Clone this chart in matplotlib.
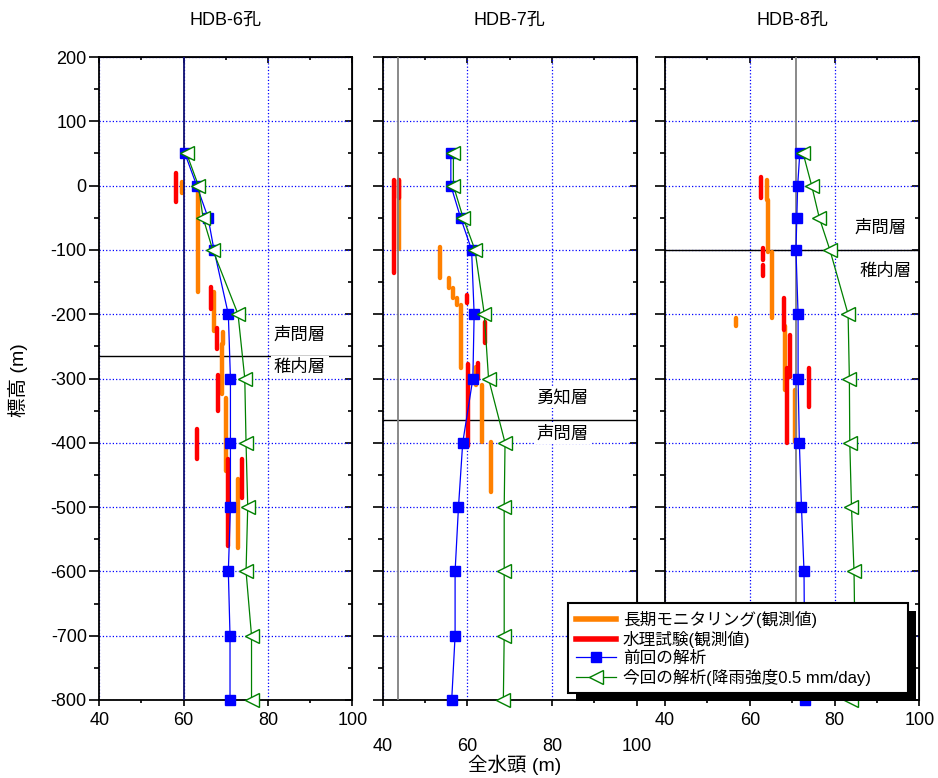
import matplotlib
matplotlib.use('Agg')
import matplotlib.pyplot as plt
import numpy as np
from matplotlib.lines import Line2D
from matplotlib.patches import Rectangle
from matplotlib.ticker import MultipleLocator, NullFormatter

plt.rcParams['font.family'] = ['Liberation Sans', 'Noto Sans CJK JP', 'DejaVu Sans']
plt.rcParams['axes.unicode_minus'] = False

# elevations of the analysis points (m)
elev = [50, 0, -50, -100, -200, -300, -400, -500, -600, -700, -800]

# HDB-6
prev6 = [60.3, 63.1, 65.8, 67.2, 70.6, 71.1, 71.1, 71.1, 70.6, 71.0, 71.0]
now6 = [60.7, 63.5, 64.6, 66.9, 72.9, 74.5, 74.8, 75.2, 74.8, 76.1, 76.1]
mon6_x = [59.5, 63.5, 67.3, 69.4, 69.0, 70.0, 72.9]
mon6_top = [5, -10, -166, -228, -246, -330, -456]
mon6_bot = [-12, -166, -226, -246, -324, -444, -564]
hyd6_x = [58.2, 66.6, 67.8, 68.1, 63.1, 70.6, 73.9]
hyd6_top = [19, -158, -221, -295, -378, -425, -425]
hyd6_bot = [-26, -192, -254, -350, -425, -561, -486]

# HDB-7
prev7 = [56.1, 56.1, 58.4, 61.0, 61.6, 61.3, 58.9, 57.9, 57.1, 57.1, 56.3]
now7 = [56.7, 56.7, 59.0, 61.8, 64.0, 65.0, 68.9, 68.7, 68.7, 68.7, 68.5]
mon7_x = [43.9, 53.5, 55.7, 56.7, 57.6, 58.4, 62.0, 63.4, 65.5]
mon7_top = [9, -95, -144, -160, -175, -186, -282, -310, -398]
mon7_bot = [-98, -144, -160, -175, -186, -284, -310, -398, -476]
hyd7_x = [42.7, 43.9, 59.8, 64.2, 60.1, 62.6]
hyd7_top = [9, 9, -170, -212, -278, -276]
hyd7_bot = [-136, -20, -183, -245, -405, -300]

# HDB-8
prev8 = [71.8, 71.3, 71.1, 70.9, 71.4, 71.4, 71.7, 72.2, 72.8, 72.9, 73.0]
now8 = [72.6, 74.6, 76.4, 78.9, 83.2, 83.5, 83.6, 84.0, 84.6, 84.8, 83.8]
mon8_x = [64.0, 64.4, 65.2, 56.7, 68.3, 70.7]
mon8_top = [9, -22, -103, -206, -219, -318]
mon8_bot = [-22, -103, -206, -219, -318, -398]
hyd8_x = [62.6, 63.2, 63.2, 68.1, 69.6, 68.7, 74.0]
hyd8_top = [14, -97, -123, -175, -232, -284, -284]
hyd8_bot = [-20, -116, -141, -225, -297, -400, -344]

titles = ['HDB-6孔', 'HDB-7孔', 'HDB-8孔']
ref_x = [60, 43.7, 70.9]
ref_col = ['#101070', '#808080', '#808080']
boundary = [-265, -365, -100]
layer_labels = [(('声問層', 87.6, -231), ('稚内層', 87.6, -282)),
                (('勇知層', 82.5, -329), ('声問層', 82.5, -385)),
                (('声問層', 90.8, -66), ('稚内層', 92.0, -132))]
legend_labels = ['長期モニタリング(観測値)', '水理試験(観測値)', '前回の解析',
                 '今回の解析(降雨強度0.5 mm/day)']

ORANGE = '#ff8000'
RED = '#ff0000'
BLUE = '#0000ff'
GREEN = '#008000'

W, H = 938, 778
fig = plt.figure(figsize=(W / 100, H / 100), dpi=100)
lefts = [99.3, 382.7, 665.0]
widths = [253.0, 254.0, 254.3]

series = [
    (prev6, now6, mon6_x, mon6_top, mon6_bot, hyd6_x, hyd6_top, hyd6_bot),
    (prev7, now7, mon7_x, mon7_top, mon7_bot, hyd7_x, hyd7_top, hyd7_bot),
    (prev8, now8, mon8_x, mon8_top, mon8_bot, hyd8_x, hyd8_top, hyd8_bot),
]

for i in range(3):
    prev, now, mx, mt, mb, hx, ht, hb = series[i]
    ax = fig.add_axes([lefts[i] / W, 1 - 700 / H, widths[i] / W, 643 / H])
    ax.set_xlim(40, 100)
    ax.set_ylim(-800, 200)
    ax.xaxis.set_major_locator(MultipleLocator(20))
    ax.xaxis.set_minor_locator(MultipleLocator(10))
    ax.yaxis.set_major_locator(MultipleLocator(100))
    ax.yaxis.set_minor_locator(MultipleLocator(50))
    ax.grid(True, which='major', color=BLUE, linestyle=':', linewidth=0.9)
    ax.set_axisbelow(True)
    for s in ax.spines.values():
        s.set_linewidth(1.3)

    xpad = 4 if i != 1 else 23
    ax.tick_params(axis='x', which='major', direction='out', length=4.5, width=1.2,
                   labelsize=13, pad=xpad)
    ax.tick_params(axis='x', which='minor', direction='out', length=2.5, width=1.2)
    ax.tick_params(axis='y', which='major', direction='out', length=7, width=1.2,
                   labelsize=13, pad=2, labelleft=(i == 0))
    ax.tick_params(axis='y', which='minor', direction='out', length=3.5, width=1.2)

    top = ax.secondary_xaxis('top')
    top.xaxis.set_major_locator(MultipleLocator(20))
    top.xaxis.set_minor_locator(MultipleLocator(10))
    top.xaxis.set_major_formatter(NullFormatter())
    top.tick_params(which='major', direction='in', length=4.5, width=1.2)
    top.tick_params(which='minor', direction='in', length=2.5, width=1.2)
    right = ax.secondary_yaxis('right')
    right.yaxis.set_major_locator(MultipleLocator(100))
    right.yaxis.set_minor_locator(MultipleLocator(50))
    right.yaxis.set_major_formatter(NullFormatter())
    right.tick_params(which='major', direction='in', length=5, width=1.2)
    right.tick_params(which='minor', direction='in', length=3, width=1.2)

    ax.axhline(boundary[i], color='black', linewidth=1.0, zorder=2)

    ax.vlines(mx, mb, mt, colors=ORANGE, linewidth=3.2, capstyle='round', zorder=3)
    ax.vlines(hx, hb, ht, colors=RED, linewidth=3.2, capstyle='round', zorder=4)
    ax.axvline(ref_x[i], color=ref_col[i], linewidth=1.3, zorder=4.5)
    ax.plot(prev, elev, color=BLUE, linewidth=0.9, marker='s', markersize=7.5,
            markeredgecolor=BLUE, markerfacecolor=BLUE, zorder=5, clip_on=False)
    ax.plot(now, elev, color=GREEN, linewidth=0.9, marker='<', markersize=10,
            markeredgecolor=GREEN, markerfacecolor='white', zorder=6, clip_on=False)

    for txt, lx, ly in layer_labels[i]:
        ax.text(lx, ly, txt, fontsize=12.5, ha='center', va='center', zorder=7,
                bbox=dict(facecolor='white', edgecolor='none', pad=2))

    fig.text((lefts[i] + widths[i] / 2) / W, 1 - 20 / H, titles[i], fontsize=13,
             ha='center', va='center')

fig.text(18 / W, 1 - 380 / H, '標高 (m)', fontsize=14, rotation=90,
         ha='center', va='center')
fig.text(515 / W, 1 - 765 / H, '全水頭 (m)', fontsize=14, ha='center', va='center')

handles = [
    Line2D([], [], color=ORANGE, linewidth=4),
    Line2D([], [], color=RED, linewidth=4),
    Line2D([], [], color=BLUE, linewidth=0.9, marker='s', markersize=7.5),
    Line2D([], [], color=GREEN, linewidth=0.9, marker='<', markersize=10,
           markerfacecolor='white'),
]
leg = fig.legend(handles=handles, labels=legend_labels, loc='upper left',
                 bbox_to_anchor=(568 / W, 1 - 692 / H, 340 / W, 89 / H),
                 bbox_transform=fig.transFigure, mode='expand',
                 borderaxespad=0, fancybox=False, edgecolor='black', framealpha=1,
                 fontsize=12, handlelength=2.4, labelspacing=0.18, borderpad=0.45,
                 handletextpad=0.45)
leg.get_frame().set_linewidth(1.5)
leg.set_zorder(10)

fig.canvas.draw()
bb = leg.get_frame().get_window_extent()
shadow = Rectangle(((bb.x0 + 8) / W, (bb.y0 - 8) / H), bb.width / W, bb.height / H,
                   transform=fig.transFigure, facecolor='black', edgecolor='none',
                   zorder=9)
fig.add_artist(shadow)

fig.savefig('out.png', dpi=100)
